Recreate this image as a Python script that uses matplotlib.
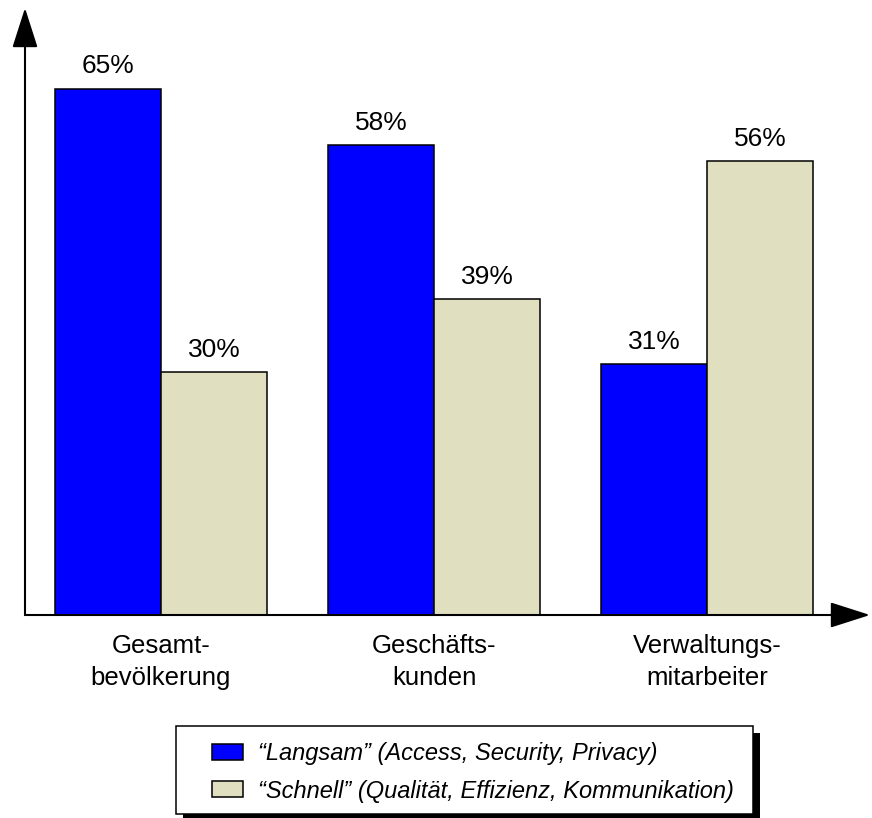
import numpy as np
import matplotlib.pyplot as plt
from matplotlib.patches import Rectangle, Patch
from matplotlib.patches import ArrowStyle

plt.rcParams['font.family'] = ['Liberation Sans', 'DejaVu Sans']

gruppen = ["Gesamt-\nbevölkerung", "Geschäfts-\nkunden", "Verwaltungs-\nmitarbeiter"]
langsam = [65, 58, 31]
schnell = [30, 39, 56]
legende = ["\u201cLangsam\u201d (Access, Security, Privacy)",
           "\u201cSchnell\u201d (Qualität, Effizienz, Kommunikation)"]

blau = "#0000FF"
beige = "#E0E0C0"

W, H = 872, 818
fig = plt.figure(figsize=(W / 100, H / 100), dpi=100)

# Achsen in Pixeln: y-Achse bei x=25, x-Achse bei y=615
x0, y0, x1, y1 = 25, 615, 870, 8
ax = fig.add_axes([x0 / W, (H - y0) / H, (x1 - x0) / W, (y0 - y1) / H])

breite = 0.388
x = np.arange(len(gruppen))
ax.bar(x - breite / 2, langsam, breite, color=blau, edgecolor="black", linewidth=1.1)
ax.bar(x + breite / 2, schnell, breite, color=beige, edgecolor="black", linewidth=1.1)

for xi, v in zip(x - breite / 2, langsam):
    ax.annotate(f"{v}%", (xi, v), xytext=(0, 11), textcoords="offset points",
                ha="center", va="baseline", fontsize=19)
for xi, v in zip(x + breite / 2, schnell):
    ax.annotate(f"{v}%", (xi, v), xytext=(0, 11), textcoords="offset points",
                ha="center", va="baseline", fontsize=19)

for xi, name in zip(x, gruppen):
    ax.annotate(name, (xi, 0), xytext=(0, -14), textcoords="offset points",
                ha="center", va="top", fontsize=18.5, linespacing=1.38,
                annotation_clip=False)

ax.set_xlim((x0 - 161) / 273, (x1 - 161) / 273)
ax.set_ylim(0, (y0 - y1) / 8.1)
ax.axis("off")

# Achsenpfeile
pfeil = ArrowStyle("-|>", head_length=25, head_width=8)
for ziel in [(0, 1), (1, 0)]:
    ax.annotate("", xy=ziel, xytext=(0, 0), xycoords="axes fraction",
                arrowprops=dict(arrowstyle=pfeil, color="black", lw=1.5,
                                shrinkA=0, shrinkB=0, mutation_scale=1),
                annotation_clip=False)

# Legendenrahmen mit Schatten
lx0, ly0, lx1, ly1 = 176, 726, 753, 814
fig.patches.append(Rectangle(((lx0 + 7) / W, (H - ly1 - 7) / H), (lx1 - lx0) / W,
                             (ly1 - ly0) / H, transform=fig.transFigure,
                             facecolor="black", edgecolor="none", zorder=1))
fig.patches.append(Rectangle((lx0 / W, (H - ly1) / H), (lx1 - lx0) / W,
                             (ly1 - ly0) / H, transform=fig.transFigure,
                             facecolor="white", edgecolor="black", linewidth=1.1, zorder=2))

handles = [Patch(facecolor=blau, edgecolor="black", linewidth=1.1),
           Patch(facecolor=beige, edgecolor="black", linewidth=1.1)]
leg = fig.legend(handles, legende, loc="upper left",
                 bbox_to_anchor=(212 / W, 1 - 742 / H), frameon=False,
                 prop=dict(style="italic", size=17), borderpad=0, borderaxespad=0,
                 handlelength=1.31, handleheight=0.68, handletextpad=0.64,
                 labelspacing=0.62)
leg.set_zorder(3)

fig.savefig("out.png", dpi=100)
